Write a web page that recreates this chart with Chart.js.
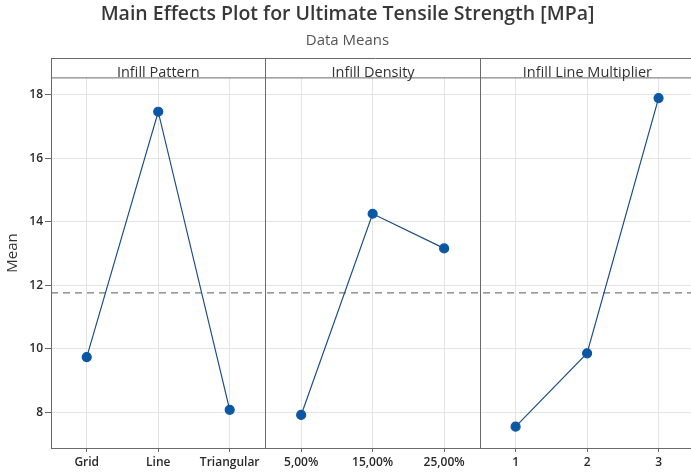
<!doctype html>
<html>

<head>
    <title>Main Effects Plot for Ultimate Tensile Strength</title>
    <script src="https://cdn.jsdelivr.net/npm/chart.js@4/dist/chart.umd.min.js"></script>
    <style>
    html, body {
        margin: 0;
        padding: 0;
        overflow: hidden;
        background: #fff;
    }
    #wrap {
        width: 691px;
        height: 473px;
        overflow: hidden;
    }
    </style>
</head>

<body>
    <div id="wrap">
        <canvas id="canvas" width="700" height="473"></canvas>
    </div>
    <script>
    var panelTitles = ['Infill Pattern', 'Infill Density', 'Infill Line Multiplier'];
    var patternLevels = ['Grid', 'Line', 'Triangular'];
    var densityLevels = ['5,00%', '15,00%', '25,00%'];
    var multiplierLevels = ['1', '2', '3'];
    var patternMeans = [9.74, 17.46, 8.08];
    var densityMeans = [7.92, 14.25, 13.16];
    var multiplierMeans = [7.55, 9.86, 17.89];
    var grandMean = 11.76;
    var yTicks = [8, 10, 12, 14, 16, 18];
    var yLabel = 'Mean';

    var labels = patternLevels.concat(densityLevels, multiplierLevels);
    var blue = '#0b57a4';
    var frameColor = '#6a6a6a';

    // put each panel's means at its own categories, null elsewhere so the lines don't join
    var padded = function(values, offset) {
        var out = [];
        for (var i = 0; i < labels.length; i++) {
            out.push(i >= offset && i < offset + values.length ? values[i - offset] : null);
        }
        return out;
    };

    var makeDataset = function(values, offset) {
        return {
            data: padded(values, offset),
            borderColor: '#1c4f86',
            borderWidth: 1.2,
            pointRadius: 4.5,
            pointBackgroundColor: blue,
            pointBorderColor: blue,
            spanGaps: false,
            tension: 0
        };
    };

    var headerTop = 58;

    var panelsPlugin = {
        id: 'panels',
        beforeDatasetsDraw: function(chart) {
            var ctx = chart.ctx;
            var area = chart.chartArea;
            var x = chart.scales.x;
            var y = chart.scales.y;
            ctx.save();

            // grand mean reference
            var ym = y.getPixelForValue(grandMean);
            ctx.strokeStyle = '#7a7a7a';
            ctx.lineWidth = 1.2;
            ctx.setLineDash([7, 5]);
            ctx.beginPath();
            ctx.moveTo(area.left, ym);
            ctx.lineTo(area.right, ym);
            ctx.stroke();
            ctx.setLineDash([]);

            // frame, header strip and panel dividers
            ctx.strokeStyle = frameColor;
            ctx.lineWidth = 1;
            ctx.beginPath();
            ctx.moveTo(area.left, headerTop + 0.5);
            ctx.lineTo(chart.width, headerTop + 0.5);
            ctx.moveTo(area.left, area.top + 0.5);
            ctx.lineTo(chart.width, area.top + 0.5);
            ctx.moveTo(area.left + 0.5, headerTop);
            ctx.lineTo(area.left + 0.5, area.bottom);
            var edges = [area.left];
            for (var p = 1; p < panelTitles.length; p++) {
                var xd = Math.round((x.getPixelForValue(p * 3 - 1) + x.getPixelForValue(p * 3)) / 2) + 0.5;
                ctx.moveTo(xd, headerTop);
                ctx.lineTo(xd, area.bottom);
                edges.push(xd);
            }
            edges.push(area.right);
            ctx.stroke();

            ctx.fillStyle = '#333';
            ctx.font = '14.5px "Open Sans"';
            ctx.textAlign = 'center';
            ctx.textBaseline = 'alphabetic';
            for (var k = 0; k < panelTitles.length; k++) {
                ctx.fillText(panelTitles[k], (edges[k] + edges[k + 1]) / 2, area.top - 0.5);
            }

            // y label centred on the whole frame (header included), as in the original
            ctx.font = '15px "Open Sans"';
            ctx.textBaseline = 'middle';
            ctx.translate(13, (headerTop + area.bottom) / 2);
            ctx.rotate(-Math.PI / 2);
            ctx.fillText(yLabel, 0, 0);
            ctx.restore();
        }
    };

    Chart.defaults.font.family = '"Open Sans", sans-serif';
    Chart.defaults.color = '#333';

    var config = {
        type: 'line',
        data: {
            labels: labels,
            datasets: [
                makeDataset(patternMeans, 0),
                makeDataset(densityMeans, 3),
                makeDataset(multiplierMeans, 6)
            ]
        },
        options: {
            responsive: false,
            animation: false,
            layout: {
                padding: { left: 0, right: 5, top: 0, bottom: 0 }
            },
            plugins: {
                legend: { display: false },
                tooltip: { enabled: false },
                title: {
                    display: true,
                    text: 'Main Effects Plot for Ultimate Tensile Strength [MPa]',
                    color: '#383838',
                    font: { size: 19.5, weight: '600' },
                    padding: { top: 3, bottom: 3 }
                },
                subtitle: {
                    display: true,
                    text: 'Data Means',
                    color: '#555',
                    font: { size: 15 },
                    padding: { top: 2, bottom: 28 }
                }
            },
            scales: {
                x: {
                    type: 'category',
                    offset: true,
                    afterFit: function(axis) { axis.height = 25; },
                    grid: { offset: false, color: '#e4e4e4', tickLength: 4, tickColor: frameColor },
                    border: { color: frameColor },
                    ticks: { autoSkip: false, maxRotation: 0, padding: 3, color: '#2a2a2a', font: { size: 12, weight: '600' } }
                },
                y: {
                    min: 6.88,
                    max: 18.54,
                    afterBuildTicks: function(axis) {
                        axis.ticks = yTicks.map(function(v) { return { value: v }; });
                    },
                    afterFit: function(axis) { axis.width = 51; },
                    grid: { color: '#e4e4e4', tickLength: 6, tickColor: frameColor },
                    border: { color: frameColor },
                    ticks: { padding: 2, color: '#2a2a2a', font: { size: 12, weight: '600' } }
                }
            }
        },
        plugins: [panelsPlugin]
    };

    window.onload = function() {
        window.myChart = new Chart(document.getElementById('canvas'), config);
    };
    </script>
</body>

</html>
